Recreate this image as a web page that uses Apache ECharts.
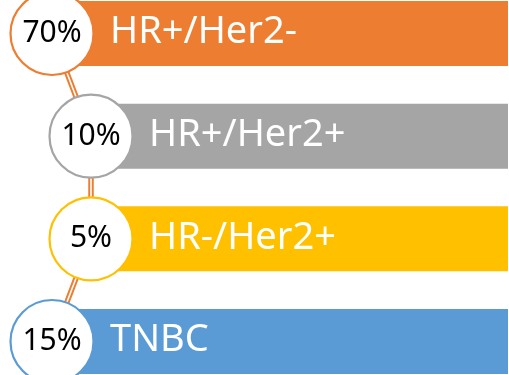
<!DOCTYPE html>
<html>
<head>
<meta charset="utf-8">
<script src="https://cdn.jsdelivr.net/npm/echarts@6/dist/echarts.min.js"></script>
<style>
  html, body { margin: 0; padding: 0; background: #fff; }
  #chart { width: 509px; height: 375px; }
</style>
</head>
<body>
<div id="chart"></div>
<script>
// 分型及占比
var categories = ['HR+/Her2-', 'HR+/Her2+', 'HR-/Her2+', 'TNBC']
var shares = [70, 10, 5, 15]

var colors = ['#ED7D31', '#A5A5A5', '#FFC000', '#5B9BD5']
var chart = echarts.init(document.getElementById('chart'))

// 圆圈的水平缩进
function indentOf (i) {
  return (i === 1 || i === 2) ? 91 : 52
}

var points = shares.map(function (v, i) { return [0, i, v] })

chart.setOption({
  animation: false,
  grid: { left: 0, right: 1, top: 33.5, bottom: 33.5 },
  xAxis: { type: 'value', min: 0, max: 1, show: false },
  yAxis: {
    type: 'category',
    data: categories,
    inverse: true,
    boundaryGap: false,
    show: false
  },
  series: [
    {
      // 连接线
      type: 'custom',
      z: 1,
      data: points.slice(1),
      encode: { x: 0, y: 1 },
      renderItem: function (params, api) {
        var i = api.value(1)
        var p0 = api.coord([0, i - 1])
        var p1 = api.coord([0, i])
        var shape = {
          x1: p0[0] + indentOf(i - 1), y1: p0[1],
          x2: p1[0] + indentOf(i), y2: p1[1]
        }
        return {
          type: 'group',
          children: [
            { type: 'line', shape: shape, style: { stroke: '#ED7D31', lineWidth: 5.5 } },
            { type: 'line', shape: shape, style: { stroke: '#fff', lineWidth: 1.6 } }
          ]
        }
      }
    },
    {
      type: 'custom',
      z: 2,
      data: points,
      encode: { x: 0, y: 1 },
      renderItem: function (params, api) {
        var i = api.value(1)
        var p = api.coord([0, i])
        var right = api.coord([1, i])[0]
        var cx = p[0] + indentOf(i)
        var cy = p[1]
        var h = 65
        var c = colors[i]
        return {
          type: 'group',
          children: [
            {
              type: 'rect',
              shape: { x: cx, y: cy - h / 2, width: right - cx, height: h },
              style: { fill: c }
            },
            {
              type: 'text',
              x: cx + 58,
              y: cy - 1,
              style: {
                text: categories[i],
                fill: '#fff',
                font: '38px "Noto Sans"',
                verticalAlign: 'middle',
                align: 'left'
              }
            },
            {
              type: 'circle',
              shape: { cx: cx, cy: cy, r: 41.5 },
              style: { fill: '#fff', stroke: c, lineWidth: 2.2 }
            },
            {
              type: 'text',
              x: cx,
              y: cy,
              style: {
                text: api.value(2) + '%',
                fill: '#000',
                font: '30px "Noto Sans"',
                verticalAlign: 'middle',
                align: 'center'
              }
            }
          ]
        }
      }
    }
  ]
})
</script>
</body>
</html>
